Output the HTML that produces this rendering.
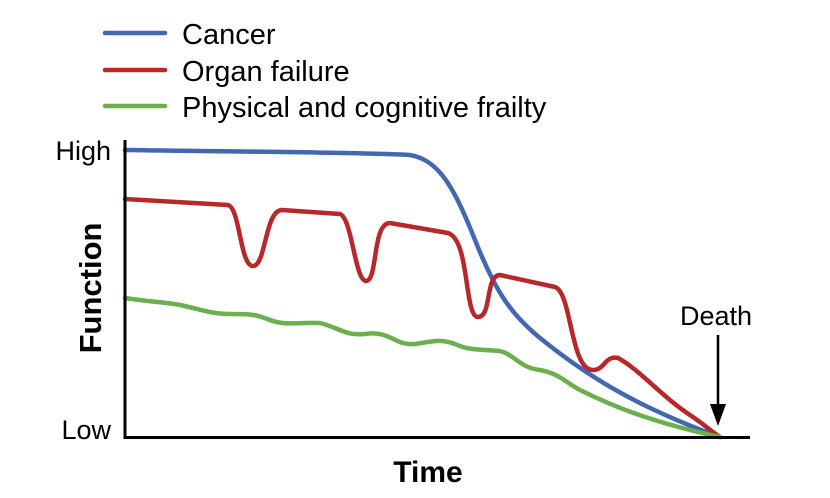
<!DOCTYPE html>
<html><head><style>body{margin:0;background:#fff}svg{display:block}</style></head><body>
<svg width="830" height="498" viewBox="0 0 830 498" xmlns="http://www.w3.org/2000/svg" font-family="Liberation Sans, sans-serif">
<g stroke-width="4.5" fill="none" stroke-linecap="round" stroke-linejoin="round">
<line x1="105" y1="33" x2="165" y2="33" stroke="#4468b0"/>
<line x1="105" y1="70" x2="165" y2="70" stroke="#b8282a"/>
<line x1="105" y1="106" x2="165" y2="106" stroke="#6ab04c"/>
<path d="M125,150 C250,152 350,152 410,155 C440,160 455,190 475,240 C495,290 510,315 545,342 C590,378 640,408 720,437" stroke="#4468b0"/>
<path d="M125,199 L228,205 C240,208 240,266 253,266 C266,266 265,210 282,210 L340,214 C352,218 355,281 366,281 C378,281 372,223 390,223 L448,233 C470,240 464,317 478,317 C492,317 485,275 500,275 L555,287 C572,293 570,370 593,370 C605,370 605,355 618,358 C640,370 660,395 690,415 C705,425 712,432 720,437" stroke="#b8282a"/>
<path d="M125,298 C150,302 165,302 180,305 C200,309 210,314 230,314 C250,314 255,314 270,320 C285,326 300,322 320,323 C340,328 345,336 365,334 C390,330 395,346 415,344 C430,342 440,338 455,344 C470,351 480,349 500,351 C515,355 520,368 540,370 C560,374 565,382 580,390 C610,405 650,422 720,437" stroke="#6ab04c"/>
</g>
<line x1="125" y1="140" x2="125" y2="439" stroke="#000" stroke-width="3"/>
<line x1="124" y1="437.5" x2="750" y2="437.5" stroke="#000" stroke-width="3"/>
<line x1="718" y1="335" x2="718" y2="410" stroke="#000" stroke-width="2.5"/>
<path d="M710,404 L718,426 L726,404 Z" fill="#000"/>
<g font-size="29" fill="#000">
<text x="182" y="44">Cancer</text>
<text x="182" y="81">Organ failure</text>
<text x="182" y="117">Physical and cognitive frailty</text>
<text x="111" y="160" font-size="27" text-anchor="end">High</text>
<text x="111" y="439" font-size="27" text-anchor="end">Low</text>
<text x="716" y="325" font-size="27" text-anchor="middle">Death</text>
<text x="428" y="482" text-anchor="middle" font-weight="bold" font-size="30">Time</text>
<text transform="translate(101,288) rotate(-90)" text-anchor="middle" font-weight="bold" font-size="31">Function</text>
</g>
</svg>
</body></html>
